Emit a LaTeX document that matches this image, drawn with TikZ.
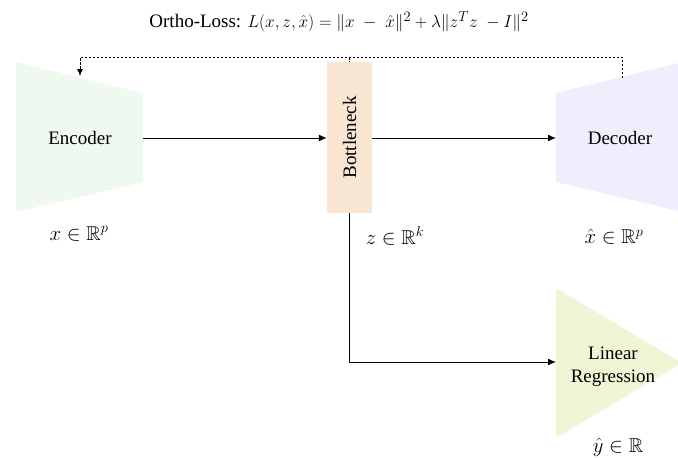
\documentclass[tikz,border=0pt]{standalone}
\usepackage{amssymb}
\usepackage{fontspec}
\setmainfont{Liberation Serif}
\usetikzlibrary{arrows.meta}
\definecolor{encfill}{HTML}{EFF9F0}
\definecolor{decfill}{HTML}{EEEEFC}
\definecolor{bnfill}{HTML}{F8E5D2}
\definecolor{lrfill}{HTML}{F1F5D6}
\begin{document}
\begin{tikzpicture}[x=1pt,y=-1pt,
  conn/.style={line width=1pt,-{Latex[length=8pt,width=7pt]}},
  loss/.style={line width=0.8pt,dash pattern=on 2.5pt off 1.5pt},
  lbl/.style={font=\fontsize{19}{22}\selectfont, inner sep=0pt, align=center},
  mlbl/.style={font=\fontsize{20}{23}\selectfont, inner sep=0pt}]
\useasboundingbox (0,0) rectangle (678,458);
\begin{scope}
\clip (0,0) rectangle (678,458);
% shapes
\fill[encfill] (16,62) -- (143,93) -- (143,182) -- (16,212) -- cycle;
\fill[decfill] (556,93) -- (683,62) -- (683,212) -- (556,182) -- cycle;
\fill[lrfill] (556,288) -- (682,363) -- (556,438) -- cycle;
\node[fill=bnfill, minimum width=45pt, minimum height=151pt, inner sep=0pt] (bn) at (349.5,137.5) {};
\end{scope}
% texts
\node[lbl] (enc) at (80,138) {Encoder};
\node[lbl] (dec) at (620,138) {Decoder};
\node[lbl, rotate=90] (bntext) at (bn.center) {Bottleneck};
\node[lbl, font=\fontsize{19}{23}\selectfont] (lr) at (613,367) {Linear\\Regression};
% connection points
\coordinate (encR) at (143,138);
\coordinate (decL) at (556,138);
\coordinate (lrL) at (556,362);
\coordinate (corner) at (bn.south |- lrL);
\coordinate (encT) at (80,76);
\coordinate (decT) at (622,78);
\coordinate (lossL) at (80,57);
\coordinate (lossR) at (622,57);
\coordinate (lossM) at (bn.north |- lossL);
% connectors
\draw[conn] (encR) -- (bn.west |- encR);
\draw[conn] (bn.east |- decL) -- (decL);
\draw[conn] (bn.south) -- (corner) -- (lrL);
\draw[loss, -{Latex[length=7pt,width=6pt]}] (decT) -- (lossR) -- (lossL) -- (encT);
\draw[loss] (lossM) -- (bn.north);
% labels
\node[mlbl] (xl) at (79,234) {$x \in \mathbb{R}^p$};
\node[mlbl] (zl) at (395,236) {$z \in \mathbb{R}^k$};
\node[mlbl] (xhl) at (614,237) {$\hat{x} \in \mathbb{R}^p$};
\node[mlbl] (yhl) at (618,447) {$\hat{y} \in \mathbb{R}$};
\node[font=\fontsize{19}{22}\selectfont, inner sep=0pt] (title) at (339,22) {Ortho-Loss: $L(x,z,\hat{x}) = \|x\ -\ \hat{x}\|^2 + \lambda\|z^T z\ - I\|^2$};
\end{tikzpicture}
\end{document}
